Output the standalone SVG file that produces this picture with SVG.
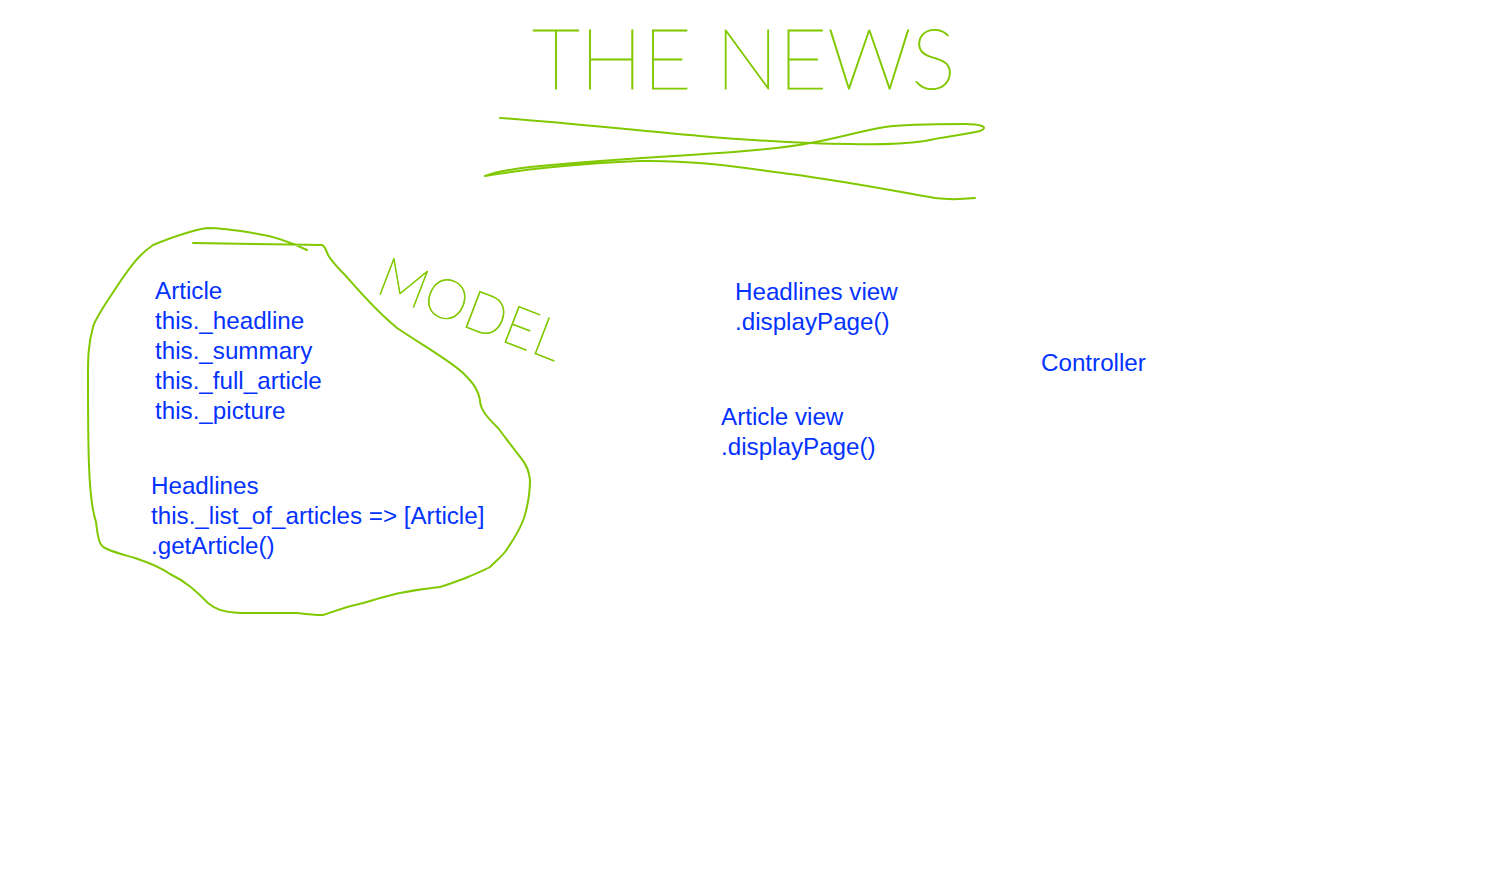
<svg xmlns="http://www.w3.org/2000/svg" width="1489" height="878" viewBox="0 0 1489 878">
<style>
.pen{fill:none;stroke:#80c800;stroke-width:2;stroke-linecap:round;stroke-linejoin:round}
.hand{fill:#80c800;stroke:#80c800;stroke-width:0.9;font-family:Lato,"Open Sans",sans-serif;font-weight:100}
.t{fill:#0433ff;font-family:"Liberation Sans",Arial,sans-serif;font-size:24.2px}
</style>
<rect width="1489" height="878" fill="#fff"/>
<g id="title">
<text class="hand" x="532" y="89" font-size="84">THE NEWS</text>
</g>
<g id="connectors">
<path id="title-underline" class="pen" d="M500,118 C560,122 640,131 700,136 C760,141 820,144 850,144 C880,145 910,143 925,141 C940,137 970,134 980,131 C990,127 980,124 965,124 C940,124 905,124 885,127 C860,131 835,139 810,143 C780,149 740,152 690,155 C640,158 580,162 530,167 C505,170 492,173 485,176 C520,170 580,163 640,161 C690,160 730,166 790,174 C850,182 900,192 935,198 C950,200 965,199 975,198"/>
</g>
<g id="model">
<path class="pen" d="M307,250 C295,244 275,236 253,233 C235,230 220,228 207,228 C195,230 180,234 153,245 C140,254 132,263 110,297 C100,312 95,320 93,327 C88,345 88,360 88,375 C88,410 88,440 89,465 C90,495 92,510 96,522 C98,540 100,546 105,548 C115,553 125,555 135,558 C150,563 160,567 170,574 C185,581 195,590 208,603 C215,609 222,612 240,613 C260,613 280,613 297,613 C305,614 312,615 323,615 C330,613 340,608 363,603 C380,598 390,595 400,593 C420,589 430,588 440,587 C450,584 460,580 463,579 C475,574 485,570 490,567 C496,561 501,557 505,552 C512,542 520,530 524,518 C528,505 530,490 530,480 C529,470 526,464 521,458 C513,448 505,437 498,428 C488,418 480,410 480,400 C478,390 474,384 465,375 C455,364 430,350 397,328 C375,310 360,292 345,275 C338,268 332,262 328,255 C326,250 325,246 322,245 C300,245 250,244 193,243"/>
<text class="hand" x="374" y="292" font-size="55" transform="rotate(21 374 292)">MODEL</text>
</g>
<g id="article">
<text class="t" x="155" y="299">Article</text>
<text class="t" x="155" y="329">this._headline</text>
<text class="t" x="155" y="359">this._summary</text>
<text class="t" x="155" y="389">this._full_article</text>
<text class="t" x="155" y="419">this._picture</text>
</g>
<g id="headlines">
<text class="t" x="151" y="494">Headlines</text>
<text class="t" x="151" y="524">this._list_of_articles =&gt; [Article]</text>
<text class="t" x="151" y="554">.getArticle()</text>
</g>
<g id="headlines-view">
<text class="t" x="735" y="300">Headlines view</text>
<text class="t" x="735" y="330">.displayPage()</text>
</g>
<g id="article-view">
<text class="t" x="721" y="425">Article view</text>
<text class="t" x="721" y="455">.displayPage()</text>
</g>
<g id="controller">
<text class="t" x="1041" y="371">Controller</text>
</g>
</svg>
